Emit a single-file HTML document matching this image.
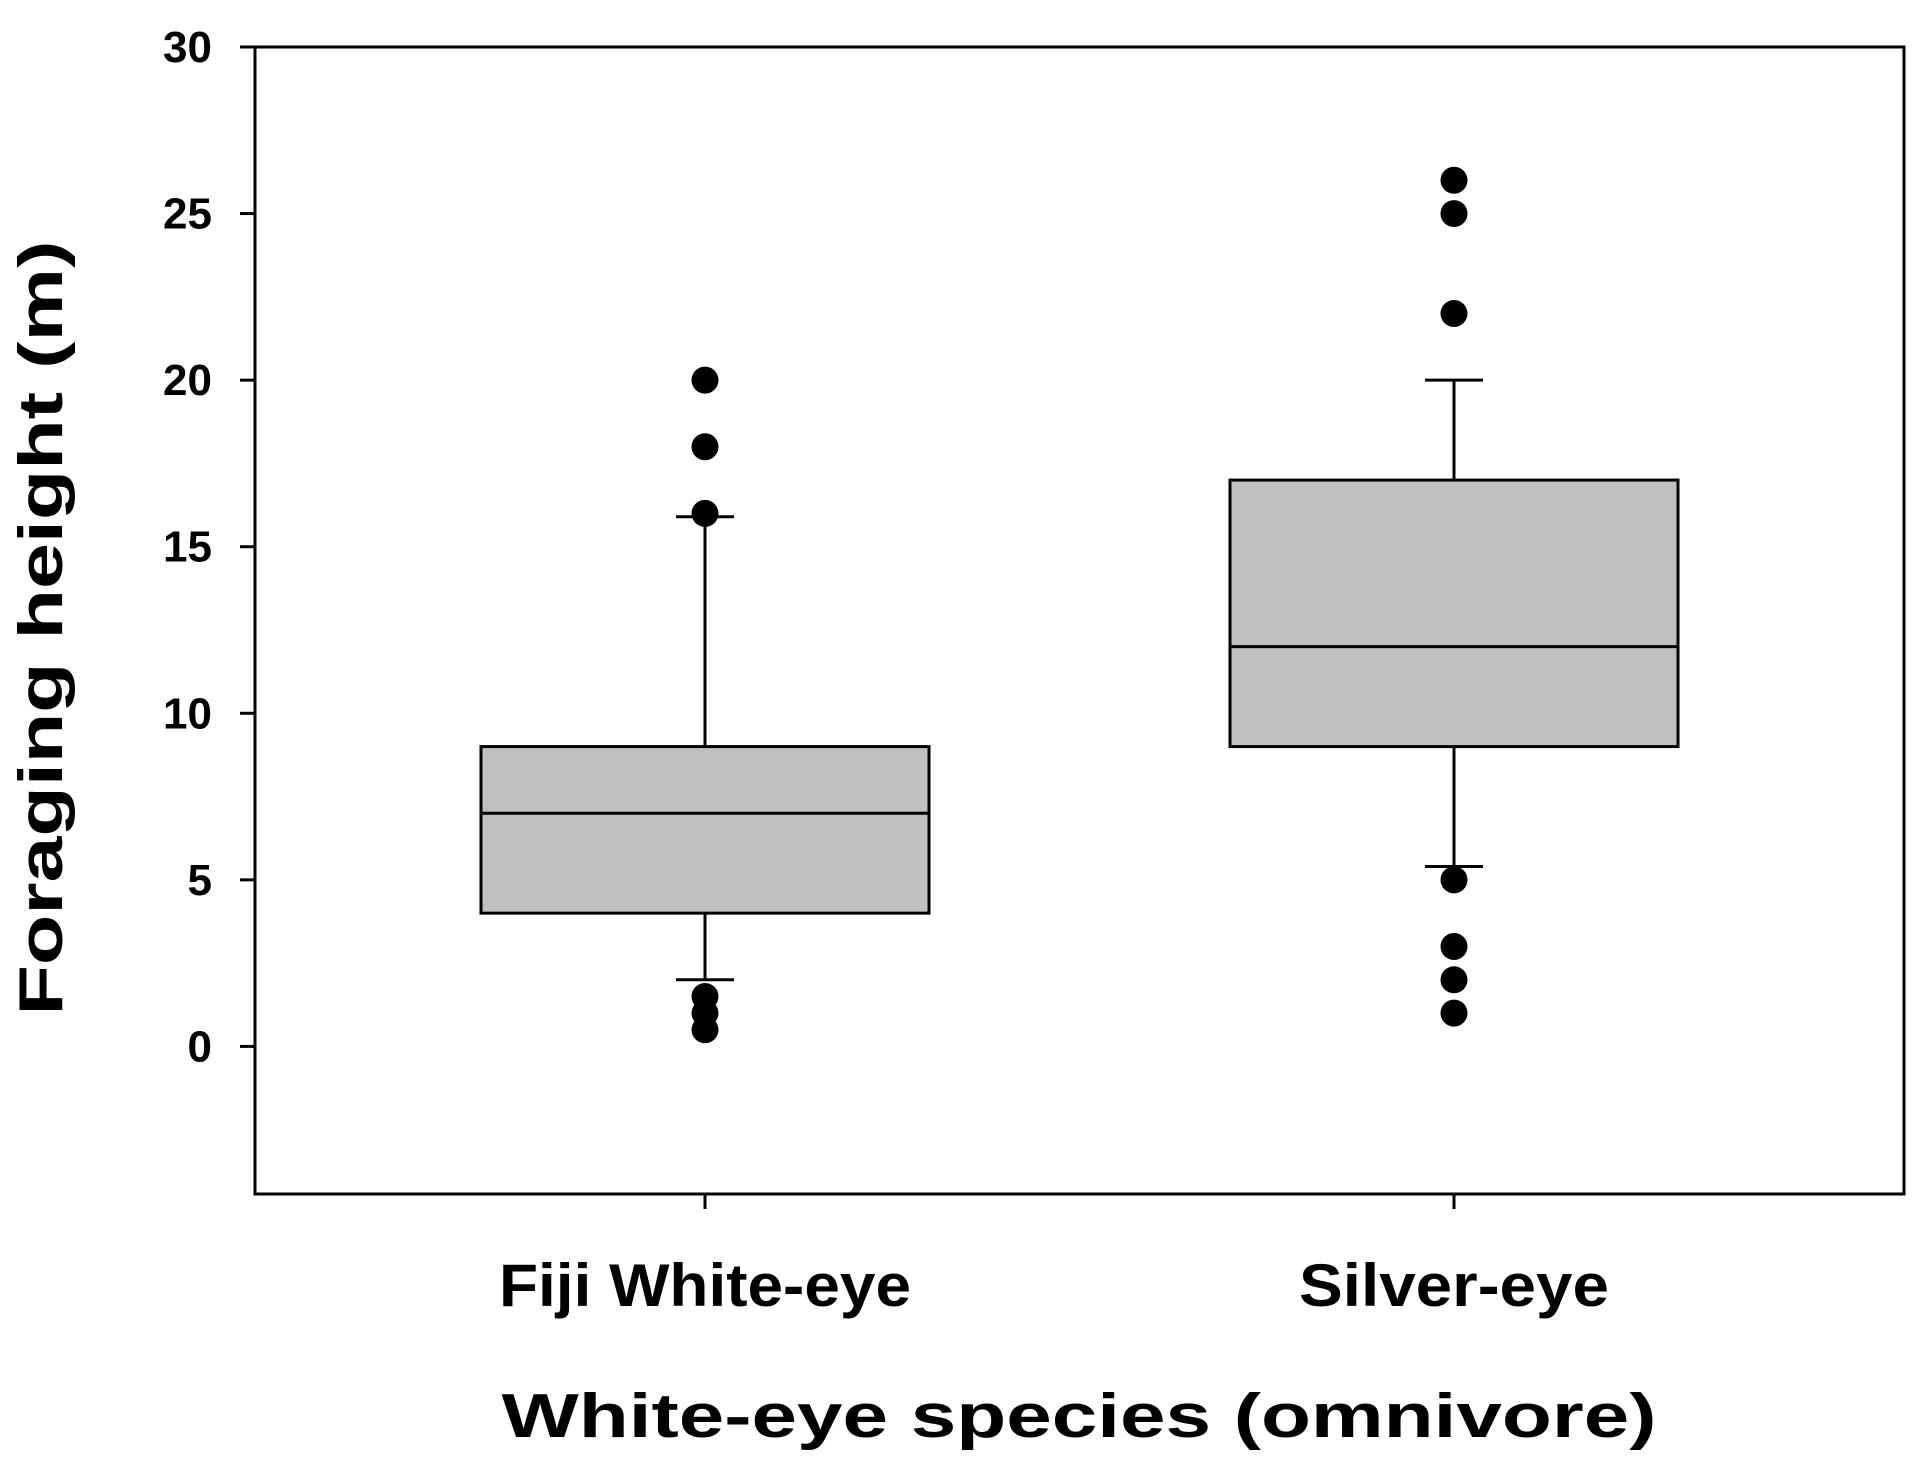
<!DOCTYPE html>
<html><head><meta charset="utf-8"><style>
html,body{margin:0;padding:0;background:#fff;}
svg{display:block;font-family:"Liberation Sans",Arial,sans-serif;font-weight:bold;}
</style></head><body>
<svg id="chart" width="1930" height="1470" viewBox="0 0 1930 1470">
<rect x="255" y="47" width="1649" height="1147" fill="none" stroke="#000" stroke-width="3"/>
<g id="yticks"></g>
<g id="xticks"></g>
<g id="boxes"></g>
<text x="62" y="628" text-anchor="middle" font-size="62" transform="rotate(-90 62 628)" textLength="775" lengthAdjust="spacingAndGlyphs">Foraging height (m)</text>
<text x="1079" y="1437" text-anchor="middle" font-size="62" textLength="1155" lengthAdjust="spacingAndGlyphs">White-eye species (omnivore)</text>
</svg>
<script>
const categories = ["Fiji White-eye", "Silver-eye"];
const q1 = [4, 9];
const medians = [7, 12];
const q3 = [9, 17];
const whiskerLow = [2, 5.4];
const whiskerHigh = [15.9, 20];
const outliers = [[20, 18, 16, 1.5, 1, 0.5], [26, 25, 22, 5, 3, 2, 1]];
const yTicks = [0, 5, 10, 15, 20, 25, 30];
const labelWidths = [412, 310];

const NS = "http://www.w3.org/2000/svg";
const yMin = -4.43, yMax = 30, plotTop = 47, plotBottom = 1194, plotLeft = 255;
function y(v){ return plotBottom - (v - yMin) / (yMax - yMin) * (plotBottom - plotTop); }
const xCenters = [705, 1454];
function x(i){ return xCenters[i]; }
function mk(tag, attrs, parent){ const e = document.createElementNS(NS, tag); for (const k in attrs) e.setAttribute(k, attrs[k]); parent.appendChild(e); return e; }

const yg = document.getElementById('yticks');
yTicks.forEach(t => {
  const l = mk('line', {x1: plotLeft - 15, x2: plotLeft, y1: y(t), y2: y(t), stroke: '#000', 'stroke-width': 3}, yg);
  
  
  const tx = mk('text', {x: 212, y: y(t) + 15, 'text-anchor': 'end', 'font-size': 44}, yg);
  tx.textContent = t;
  
  
});
const xg = document.getElementById('xticks');
categories.forEach((c, i) => {
  const l = mk('line', {x1: x(i), x2: x(i), y1: plotBottom, y2: plotBottom + 15, stroke: '#000', 'stroke-width': 3}, xg);
  
  
  const tx = mk('text', {x: x(i), y: 1306, 'text-anchor': 'middle', 'font-size': 60, textLength: labelWidths[i], lengthAdjust: 'spacingAndGlyphs'}, xg);
  tx.textContent = c;
  
  
});
const bg = document.getElementById('boxes');
const hw = 224, cap = 29;
categories.forEach((c, i) => {
  const g = mk('g', {}, bg);
  
  
  const cx = x(i);
  mk('line', {x1: cx, x2: cx, y1: y(q3[i]), y2: y(whiskerHigh[i]), stroke: '#000', 'stroke-width': 3}, g);
  mk('line', {x1: cx, x2: cx, y1: y(q1[i]), y2: y(whiskerLow[i]), stroke: '#000', 'stroke-width': 3}, g);
  mk('line', {x1: cx - cap, x2: cx + cap, y1: y(whiskerHigh[i]), y2: y(whiskerHigh[i]), stroke: '#000', 'stroke-width': 3}, g);
  mk('line', {x1: cx - cap, x2: cx + cap, y1: y(whiskerLow[i]), y2: y(whiskerLow[i]), stroke: '#000', 'stroke-width': 3}, g);
  mk('rect', {x: cx - hw, y: y(q3[i]), width: 2 * hw, height: y(q1[i]) - y(q3[i]), fill: '#c0c0c0', stroke: '#000', 'stroke-width': 3}, g);
  mk('line', {x1: cx - hw, x2: cx + hw, y1: y(medians[i]), y2: y(medians[i]), stroke: '#000', 'stroke-width': 3}, g);
  outliers[i].forEach(v => {
    const d = mk('circle', {cx: cx, cy: y(v), r: 13.5, fill: '#000'}, g);
    
    
  });
});
</script>
</body></html>
